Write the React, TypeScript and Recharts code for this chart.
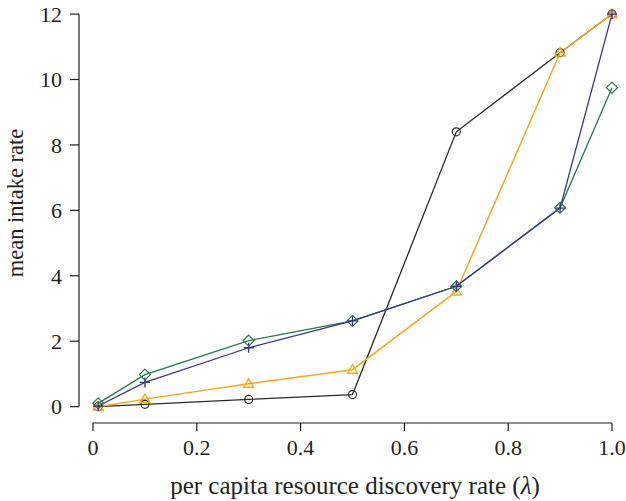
import React from 'react';
import { LineChart, Line, XAxis, YAxis, ReferenceLine, Label } from 'recharts';

const xValues = [0.01, 0.1, 0.3, 0.5, 0.7, 0.9, 1.0];
const blackSeries = [0.0, 0.07, 0.22, 0.37, 8.4, 10.82, 12.0];
const orangeSeries = [0.0, 0.23, 0.7, 1.13, 3.52, 10.82, 12.0];
const blueSeries = [0.02, 0.74, 1.8, 2.62, 3.68, 6.07, 12.0];
const greenSeries = [0.1, 0.98, 2.02, 2.62, 3.68, 6.08, 9.75];
const xTicks = [0, 0.2, 0.4, 0.6, 0.8, 1.0];
const yTicks = [0, 2, 4, 6, 8, 10, 12];

const data = xValues.map((x, i) => ({
  x,
  black: blackSeries[i],
  orange: orangeSeries[i],
  blue: blueSeries[i],
  green: greenSeries[i],
}));

const FONT = '"Liberation Serif", "Times New Roman", serif';
const TEXT = '#231f20';
const C_BLACK = '#2a2a2a';
const C_ORANGE = '#f6a623';
const C_BLUE = '#36358c';
const C_GREEN = '#237a47';

const X_DOMAIN: [number, number] = [-0.027, 1.027];
const Y_DOMAIN: [number, number] = [-0.5, 12.43];

const CircleDot = (p: any) => {
  const { cx, cy, index } = p;
  if (cx == null || cy == null) return <g key={`c${index}`} />;
  return <circle key={`c${index}`} cx={cx} cy={cy} r={4} fill="none" stroke={C_BLACK} strokeWidth={1.2} />;
};
const TriDot = (p: any) => {
  const { cx, cy, index } = p;
  if (cx == null || cy == null) return <g key={`t${index}`} />;
  return (
    <path
      key={`t${index}`}
      d={`M${cx},${cy - 5} L${cx + 5},${cy + 3.5} L${cx - 5},${cy + 3.5} Z`}
      fill="none"
      stroke={C_ORANGE}
      strokeWidth={1.4}
    />
  );
};
const PlusDot = (p: any) => {
  const { cx, cy, index } = p;
  if (cx == null || cy == null) return <g key={`p${index}`} />;
  return (
    <path
      key={`p${index}`}
      d={`M${cx - 5},${cy} L${cx + 5},${cy} M${cx},${cy - 5} L${cx},${cy + 5}`}
      fill="none"
      stroke={C_BLUE}
      strokeWidth={1.3}
    />
  );
};
const DiamondDot = (p: any) => {
  const { cx, cy, index } = p;
  if (cx == null || cy == null) return <g key={`d${index}`} />;
  return (
    <path
      key={`d${index}`}
      d={`M${cx},${cy - 5.5} L${cx + 5.5},${cy} L${cx},${cy + 5.5} L${cx - 5.5},${cy} Z`}
      fill="none"
      stroke={C_GREEN}
      strokeWidth={1.2}
    />
  );
};

const fmtX = (v: number) => (v === 0 ? '0' : v.toFixed(1));

export default function App() {
  return (
    <div style={{ position: 'absolute', left: 0, top: 0, width: 626, height: 501, background: '#fff' }}>
      <LineChart
        width={626}
        height={501}
        data={data}
        margin={{ top: 0, right: 0, bottom: 0, left: 0 }}
      >
        <XAxis
          dataKey="x"
          type="number"
          domain={X_DOMAIN}
          ticks={xTicks}
          tickFormatter={fmtX}
          allowDataOverflow
          axisLine={false}
          tickLine={{ stroke: TEXT, strokeWidth: 1.2 }}
          tickSize={8}
          tickMargin={8}
          height={78}
          tick={{ fontSize: 22, fontFamily: FONT, fill: TEXT }}
          label={
            <Label
              content={() => (
                <text x={355} y={494} textAnchor="middle" fontSize={25} fontFamily={FONT} fill={TEXT}>
                  per capita resource discovery rate (<tspan fontStyle="italic">λ</tspan>)
                </text>
              )}
            />
          }
        />
        <YAxis
          type="number"
          domain={Y_DOMAIN}
          ticks={yTicks}
          allowDataOverflow
          axisLine={false}
          tickLine={{ stroke: TEXT, strokeWidth: 1.2 }}
          tickSize={9}
          tickMargin={8}
          width={79}
          tick={{ fontSize: 22, fontFamily: FONT, fill: TEXT }}
          label={
            <Label
              content={() => (
                <text
                  x={23}
                  y={203}
                  transform="rotate(-90, 23, 203)"
                  textAnchor="middle"
                  fontSize={22.5}
                  fontFamily={FONT}
                  fill={TEXT}
                >
                  mean intake rate
                </text>
              )}
            />
          }
        />
        <ReferenceLine
          segment={[{ x: X_DOMAIN[0], y: 0 }, { x: X_DOMAIN[0], y: 12 }]}
          stroke={TEXT}
          strokeWidth={1.2}
          ifOverflow="visible"
        />
        <ReferenceLine
          segment={[{ x: 0, y: Y_DOMAIN[0] }, { x: 1, y: Y_DOMAIN[0] }]}
          stroke={TEXT}
          strokeWidth={1.2}
          ifOverflow="visible"
        />
        <Line
          dataKey="black"
          type="linear"
          stroke={C_BLACK}
          strokeWidth={1.3}
          dot={CircleDot}
          activeDot={false}
          isAnimationActive={false}
        />
        <Line
          dataKey="orange"
          type="linear"
          stroke={C_ORANGE}
          strokeWidth={1.5}
          dot={TriDot}
          activeDot={false}
          isAnimationActive={false}
        />
        <Line
          dataKey="green"
          type="linear"
          stroke={C_GREEN}
          strokeWidth={1.3}
          dot={DiamondDot}
          activeDot={false}
          isAnimationActive={false}
        />
        <Line
          dataKey="blue"
          type="linear"
          stroke={C_BLUE}
          strokeWidth={1.3}
          dot={PlusDot}
          activeDot={false}
          isAnimationActive={false}
        />
      </LineChart>
    </div>
  );
}
